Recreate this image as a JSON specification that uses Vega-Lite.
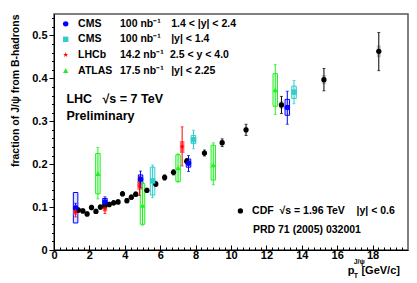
{
  "$schema": "https://vega.github.io/schema/vega-lite/v6.json",
  "width": 354,
  "height": 236,
  "autosize": {"type": "none"},
  "padding": {"left": 54, "top": 14, "right": 9, "bottom": 33},
  "background": "white",
  "config": {
    "font": "Liberation Sans",
    "view": {"stroke": "#555555", "strokeWidth": 1.5},
    "axis": {"grid": false, "domainColor": "black", "tickColor": "black", "labelColor": "black", "labelFont": "Liberation Sans", "labelFontWeight": "bold", "labelFontSize": 11, "labelOverlap": false, "labelFlush": false},
    "text": {"font": "Liberation Sans", "fontWeight": "bold", "align": "left", "baseline": "middle", "color": "black"}
  },
  "resolve": {"axis": {"x": "independent", "y": "independent"}},
  "datasets": {
    "pts": [
      {"s": "CDF", "x": 1.38, "y": 0.093, "lo": 0.088, "hi": 0.098, "slo": 0.089, "shi": 0.097},
      {"s": "CDF", "x": 1.63, "y": 0.091, "lo": 0.086, "hi": 0.096, "slo": 0.087, "shi": 0.095},
      {"s": "CDF", "x": 1.87, "y": 0.084, "lo": 0.079, "hi": 0.089, "slo": 0.080, "shi": 0.088},
      {"s": "CDF", "x": 2.12, "y": 0.099, "lo": 0.094, "hi": 0.104, "slo": 0.095, "shi": 0.103},
      {"s": "CDF", "x": 2.37, "y": 0.090, "lo": 0.085, "hi": 0.095, "slo": 0.086, "shi": 0.094},
      {"s": "CDF", "x": 2.62, "y": 0.100, "lo": 0.095, "hi": 0.105, "slo": 0.096, "shi": 0.104},
      {"s": "CDF", "x": 2.87, "y": 0.103, "lo": 0.098, "hi": 0.108, "slo": 0.099, "shi": 0.107},
      {"s": "CDF", "x": 3.12, "y": 0.106, "lo": 0.101, "hi": 0.111, "slo": 0.102, "shi": 0.110},
      {"s": "CDF", "x": 3.37, "y": 0.110, "lo": 0.105, "hi": 0.115, "slo": 0.106, "shi": 0.114},
      {"s": "CDF", "x": 3.62, "y": 0.112, "lo": 0.107, "hi": 0.117, "slo": 0.108, "shi": 0.116},
      {"s": "CDF", "x": 3.87, "y": 0.131, "lo": 0.126, "hi": 0.136, "slo": 0.127, "shi": 0.135},
      {"s": "CDF", "x": 4.12, "y": 0.115, "lo": 0.110, "hi": 0.120, "slo": 0.111, "shi": 0.119},
      {"s": "CDF", "x": 4.37, "y": 0.123, "lo": 0.118, "hi": 0.128, "slo": 0.119, "shi": 0.127},
      {"s": "CDF", "x": 4.62, "y": 0.130, "lo": 0.125, "hi": 0.135, "slo": 0.126, "shi": 0.134},
      {"s": "CDF", "x": 5.25, "y": 0.139, "lo": 0.134, "hi": 0.144, "slo": 0.135, "shi": 0.143},
      {"s": "CDF", "x": 5.75, "y": 0.154, "lo": 0.148, "hi": 0.160, "slo": 0.150, "shi": 0.158},
      {"s": "CDF", "x": 6.25, "y": 0.169, "lo": 0.163, "hi": 0.175, "slo": 0.165, "shi": 0.173},
      {"s": "CDF", "x": 6.75, "y": 0.181, "lo": 0.175, "hi": 0.187, "slo": 0.177, "shi": 0.185},
      {"s": "CDF", "x": 7.5, "y": 0.207, "lo": 0.201, "hi": 0.213, "slo": 0.203, "shi": 0.211},
      {"s": "CDF", "x": 8.5, "y": 0.226, "lo": 0.219, "hi": 0.233, "slo": 0.221, "shi": 0.231},
      {"s": "CDF", "x": 9.5, "y": 0.250, "lo": 0.241, "hi": 0.259, "slo": 0.244, "shi": 0.256},
      {"s": "CDF", "x": 10.85, "y": 0.280, "lo": 0.267, "hi": 0.293, "slo": 0.273, "shi": 0.287},
      {"s": "CDF", "x": 12.85, "y": 0.338, "lo": 0.318, "hi": 0.358, "slo": 0.329, "shi": 0.347},
      {"s": "CDF", "x": 15.25, "y": 0.397, "lo": 0.371, "hi": 0.423, "slo": 0.386, "shi": 0.408},
      {"s": "CDF", "x": 18.35, "y": 0.463, "lo": 0.418, "hi": 0.507, "slo": 0.449, "shi": 0.477},
      {"s": "CMS_fwd", "x": 1.22, "y": 0.098, "lo": 0.087, "hi": 0.109, "slo": 0.063, "shi": 0.134},
      {"s": "CMS_fwd", "x": 2.88, "y": 0.112, "lo": 0.100, "hi": 0.124, "slo": 0.105, "shi": 0.120},
      {"s": "CMS_fwd", "x": 4.89, "y": 0.165, "lo": 0.145, "hi": 0.184, "slo": 0.155, "shi": 0.175},
      {"s": "CMS_fwd", "x": 7.6, "y": 0.202, "lo": 0.183, "hi": 0.220, "slo": 0.193, "shi": 0.212},
      {"s": "CMS_fwd", "x": 13.18, "y": 0.332, "lo": 0.293, "hi": 0.370, "slo": 0.314, "shi": 0.351},
      {"s": "CMS_cen", "x": 5.57, "y": 0.161, "lo": 0.122, "hi": 0.198, "slo": 0.128, "shi": 0.193},
      {"s": "CMS_cen", "x": 7.88, "y": 0.257, "lo": 0.236, "hi": 0.279, "slo": 0.248, "shi": 0.267},
      {"s": "CMS_cen", "x": 13.56, "y": 0.368, "lo": 0.341, "hi": 0.395, "slo": 0.353, "shi": 0.382},
      {"s": "LHCb", "x": 1.22, "y": 0.090, "lo": 0.077, "hi": 0.104, "slo": 0.082, "shi": 0.099},
      {"s": "LHCb", "x": 2.88, "y": 0.097, "lo": 0.085, "hi": 0.108, "slo": 0.090, "shi": 0.104},
      {"s": "LHCb", "x": 4.83, "y": 0.150, "lo": 0.127, "hi": 0.172, "slo": 0.140, "shi": 0.160},
      {"s": "LHCb", "x": 7.24, "y": 0.241, "lo": 0.196, "hi": 0.287, "slo": 0.226, "shi": 0.254},
      {"s": "ATLAS", "x": 2.48, "y": 0.178, "lo": 0.119, "hi": 0.239, "slo": 0.131, "shi": 0.225},
      {"s": "ATLAS", "x": 5.0, "y": 0.104, "lo": 0.058, "hi": 0.157, "slo": 0.060, "shi": 0.155},
      {"s": "ATLAS", "x": 7.01, "y": 0.191, "lo": 0.158, "hi": 0.224, "slo": 0.160, "shi": 0.222},
      {"s": "ATLAS", "x": 9.0, "y": 0.198, "lo": 0.152, "hi": 0.250, "slo": 0.163, "shi": 0.244},
      {"s": "ATLAS", "x": 12.5, "y": 0.373, "lo": 0.316, "hi": 0.432, "slo": 0.335, "shi": 0.411}
    ],
    "leg": [
      {"s": "CMS_fwd", "x": 0.66, "y": 0.527},
      {"s": "CMS_cen", "x": 0.66, "y": 0.491},
      {"s": "LHCb", "x": 0.66, "y": 0.455},
      {"s": "ATLAS", "x": 0.66, "y": 0.418},
      {"s": "CDF", "x": 10.53, "y": 0.091}
    ],
    "legtxt": [
      {"x": 1.36, "y": 0.527, "t": "CMS"},
      {"x": 1.36, "y": 0.491, "t": "CMS"},
      {"x": 1.36, "y": 0.455, "t": "LHCb"},
      {"x": 1.36, "y": 0.418, "t": "ATLAS"},
      {"x": 3.73, "y": 0.527, "t": "100 nb⁻¹"},
      {"x": 3.73, "y": 0.491, "t": "100 nb⁻¹"},
      {"x": 3.73, "y": 0.455, "t": "14.2 nb⁻¹"},
      {"x": 3.73, "y": 0.418, "t": "17.5 nb⁻¹"},
      {"x": 6.62, "y": 0.527, "t": "1.4 < |y| < 2.4"},
      {"x": 6.62, "y": 0.491, "t": "|y| < 1.4"},
      {"x": 6.55, "y": 0.455, "t": "2.5 < y < 4.0"},
      {"x": 6.62, "y": 0.418, "t": "|y| < 2.25"},
      {"x": 11.19, "y": 0.091, "t": "CDF\u00a0\u00a0\u221as = 1.96 TeV\u00a0\u00a0\u00a0\u00a0|y| < 0.6"},
      {"x": 11.24, "y": 0.047, "t": "PRD 71 (2005) 032001"}
    ],
    "bigtxt": [
      {"x": 0.7, "y": 0.352, "t": "LHC\u00a0\u00a0\u00a0\u221as = 7 TeV"},
      {"x": 0.7, "y": 0.313, "t": "Preliminary"}
    ],
    "xt_big": [
      {"x": 16.59, "y": -0.049, "t": "p"},
      {"x": 17.37, "y": -0.049, "t": "[GeV/c]"}
    ],
    "xt_small": [
      {"x": 16.93, "y": -0.029, "t": "J/ψ"},
      {"x": 16.93, "y": -0.060, "t": "T"}
    ]
  },
  "layer": [
    {
      "data": {"name": "pts"},
      "transform": [{"filter": "datum.s == 'CDF'"}],
      "mark": {"type": "rect", "width": 4, "color": "#c8c8c8"},
      "encoding": {
        "x": {"field": "x", "type": "quantitative", "scale": {"domain": [0, 20], "nice": false, "zero": false},
          "title": null,
          "axis": {"orient": "bottom", "values": [0, 2, 4, 6, 8, 10, 12, 14, 16, 18], "format": "d", "tickSize": -5, "labelPadding": 4}},
        "y": {"field": "slo", "type": "quantitative", "scale": {"domain": [0, 0.55], "nice": false},
          "title": "fraction of J/ψ from B-hadrons",
          "axis": {
            "orient": "left",
            "values": [0, 0.1, 0.2, 0.3, 0.4, 0.5],
            "labelExpr": "datum.value == 0 ? '0' : format(datum.value, '.1f')",
            "tickSize": 5, "labelPadding": 2,
            "titleFont": "Liberation Sans", "titleFontWeight": "bold", "titleFontSize": 10.5, "titleColor": "black",
            "titleAngle": -90, "titleAlign": "right", "titleBaseline": "middle", "titleX": -39, "titleY": 0
          }},
        "y2": {"field": "shi"}
      }
    },
    {
      "data": {"name": "pts"},
      "transform": [{"filter": "datum.s != 'CDF' && datum.s != 'LHCb'"}],
      "mark": {"type": "rect", "width": 4.5, "fillOpacity": 0.12, "strokeWidth": 1},
      "encoding": {
        "x": {"field": "x", "type": "quantitative", "title": null,
          "axis": {"orient": "bottom", "labels": false, "domain": false, "tickSize": -3,
            "values": [0.3333,0.6667,1,1.3333,1.6667,2.3333,2.6667,3,3.3333,3.6667,4.3333,4.6667,5,5.3333,5.6667,6.3333,6.6667,7,7.3333,7.6667,8.3333,8.6667,9,9.3333,9.6667,10.3333,10.6667,11,11.3333,11.6667,12.3333,12.6667,13,13.3333,13.6667,14.3333,14.6667,15,15.3333,15.6667,16.3333,16.6667,17,17.3333,17.6667,18.3333,18.6667,19,19.3333,19.6667]}},
        "y": {"field": "slo", "type": "quantitative", "title": null,
          "axis": {"orient": "left", "labels": false, "domain": false, "tickSize": 2.5,
            "values": [0.02,0.04,0.06,0.08,0.12,0.14,0.16,0.18,0.22,0.24,0.26,0.28,0.32,0.34,0.36,0.38,0.42,0.44,0.46,0.48,0.52,0.54]}},
        "y2": {"field": "shi"},
        "color": {"field": "s", "type": "nominal", "legend": null,
          "scale": {"domain": ["CMS_fwd", "CMS_cen", "LHCb", "ATLAS", "CDF"], "range": ["#0000ff", "#33cccc", "#ff0000", "#22ee22", "#000000"]}},
        "stroke": {"field": "s", "type": "nominal", "legend": null,
          "scale": {"domain": ["CMS_fwd", "CMS_cen", "LHCb", "ATLAS", "CDF"], "range": ["#0000ff", "#33cccc", "#ff0000", "#22ee22", "#000000"]}}
      }
    },
    {
      "data": {"name": "pts"},
      "transform": [{"filter": "datum.s == 'LHCb'"}],
      "mark": {"type": "rect", "width": 4.5, "color": "#ff5555", "opacity": 0.8},
      "encoding": {
        "x": {"field": "x", "type": "quantitative", "axis": null},
        "y": {"field": "slo", "type": "quantitative", "axis": null},
        "y2": {"field": "shi"}
      }
    },
    {
      "data": {"name": "pts"},
      "mark": {"type": "errorbar", "ticks": {"size": 3}, "thickness": 1},
      "encoding": {
        "x": {"field": "x", "type": "quantitative", "axis": null},
        "y": {"field": "lo", "type": "quantitative", "axis": null},
        "y2": {"field": "hi"},
        "color": {"field": "s", "type": "nominal", "legend": null,
          "scale": {"domain": ["CMS_fwd", "CMS_cen", "LHCb", "ATLAS", "CDF"], "range": ["#0000ff", "#33cccc", "#ff0000", "#22ee22", "#000000"]}}
      }
    },
    {
      "data": {"name": "pts"},
      "mark": {"type": "point", "filled": true, "opacity": 1, "strokeWidth": 0},
      "encoding": {
        "x": {"field": "x", "type": "quantitative", "axis": null},
        "y": {"field": "y", "type": "quantitative", "axis": null},
        "color": {"field": "s", "type": "nominal", "legend": null,
          "scale": {"domain": ["CMS_fwd", "CMS_cen", "LHCb", "ATLAS", "CDF"], "range": ["#0000ff", "#33cccc", "#ff0000", "#22ee22", "#000000"]}},
        "shape": {"field": "s", "type": "nominal", "legend": null,
          "scale": {"domain": ["CMS_fwd", "CMS_cen", "LHCb", "ATLAS", "CDF"], "range": ["circle", "square", "M0,-1L0.235,-0.324L0.951,-0.309L0.38,0.124L0.588,0.809L0,0.4L-0.588,0.809L-0.38,0.124L-0.951,-0.309L-0.235,-0.324Z", "triangle-up", "circle"]}},
        "size": {"field": "s", "type": "nominal", "legend": null,
          "scale": {"domain": ["CMS_fwd", "CMS_cen", "LHCb", "ATLAS", "CDF"], "range": [30, 28, 75, 40, 12]}}
      }
    },
    {
      "data": {"name": "leg"},
      "mark": {"type": "point", "filled": true, "opacity": 1, "strokeWidth": 0},
      "encoding": {
        "x": {"field": "x", "type": "quantitative", "axis": null},
        "y": {"field": "y", "type": "quantitative", "axis": null},
        "color": {"field": "s", "type": "nominal", "legend": null,
          "scale": {"domain": ["CMS_fwd", "CMS_cen", "LHCb", "ATLAS", "CDF"], "range": ["#0000ff", "#33cccc", "#ff0000", "#22ee22", "#000000"]}},
        "shape": {"field": "s", "type": "nominal", "legend": null,
          "scale": {"domain": ["CMS_fwd", "CMS_cen", "LHCb", "ATLAS", "CDF"], "range": ["circle", "square", "M0,-1L0.235,-0.324L0.951,-0.309L0.38,0.124L0.588,0.809L0,0.4L-0.588,0.809L-0.38,0.124L-0.951,-0.309L-0.235,-0.324Z", "triangle-up", "circle"]}},
        "size": {"field": "s", "type": "nominal", "legend": null,
          "scale": {"domain": ["CMS_fwd", "CMS_cen", "LHCb", "ATLAS", "CDF"], "range": [30, 28, 75, 40, 12]}}
      }
    },
    {
      "data": {"name": "legtxt"},
      "mark": {"type": "text", "fontSize": 10.5},
      "encoding": {
        "x": {"field": "x", "type": "quantitative", "axis": null},
        "y": {"field": "y", "type": "quantitative", "axis": null},
        "text": {"field": "t"}
      }
    },
    {
      "data": {"name": "bigtxt"},
      "mark": {"type": "text", "fontSize": 12.5},
      "encoding": {
        "x": {"field": "x", "type": "quantitative", "axis": null},
        "y": {"field": "y", "type": "quantitative", "axis": null},
        "text": {"field": "t"}
      }
    },
    {
      "data": {"name": "xt_big"},
      "mark": {"type": "text", "fontSize": 11},
      "encoding": {
        "x": {"field": "x", "type": "quantitative", "axis": null},
        "y": {"field": "y", "type": "quantitative", "axis": null},
        "text": {"field": "t"}
      }
    },
    {
      "data": {"name": "xt_small"},
      "mark": {"type": "text", "fontSize": 7},
      "encoding": {
        "x": {"field": "x", "type": "quantitative", "axis": null},
        "y": {"field": "y", "type": "quantitative", "axis": null},
        "text": {"field": "t"}
      }
    }
  ]
}
